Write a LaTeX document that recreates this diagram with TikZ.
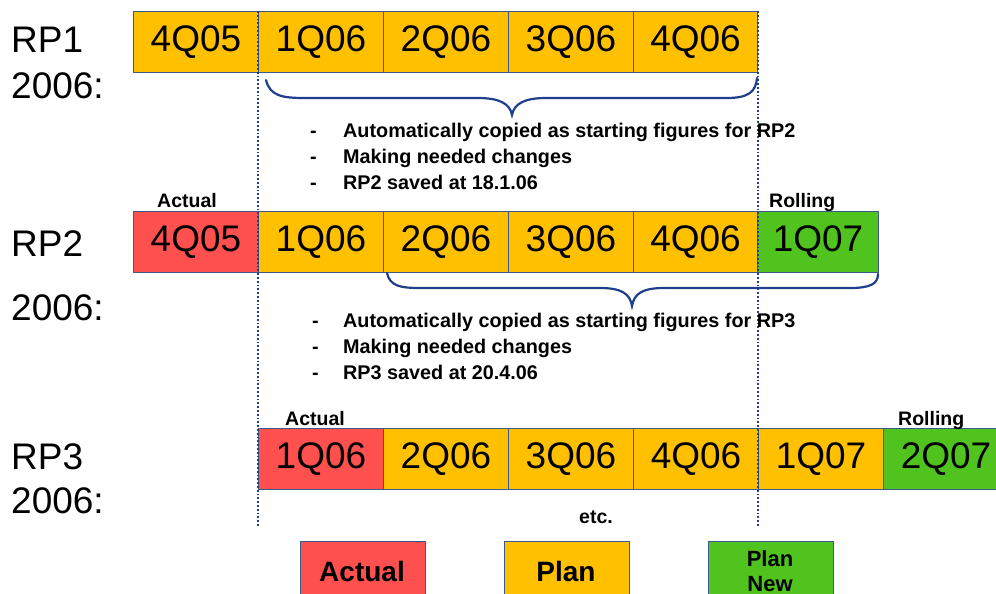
\documentclass[tikz,border=0pt]{standalone}
\usepackage{fontspec}
\setmainfont{Liberation Sans}
\usetikzlibrary{calc}
\definecolor{planorange}{HTML}{FFC000}
\definecolor{actualred}{HTML}{FF5050}
\definecolor{newgreen}{HTML}{50C31E}
\definecolor{edgeblue}{HTML}{3A5A8C}
\definecolor{bracenavy}{HTML}{1F3F8C}
\tikzset{
  qbox/.style={draw=edgeblue, line width=1pt, minimum width=125pt, minimum height=61pt,
    inner sep=0pt, anchor=north west, font=\fontsize{37}{40}\selectfont},
  plan/.style={qbox, fill=planorange},
  actual/.style={qbox, fill=actualred},
  rolling/.style={qbox, fill=newgreen},
  rowlabel/.style={anchor=base west, inner sep=0pt, font=\fontsize{37}{40}\selectfont},
  note/.style={anchor=base west, inner sep=0pt, font=\fontsize{19.8}{22}\selectfont\bfseries},
  tag/.style={anchor=base west, inner sep=0pt, font=\fontsize{19.5}{22}\selectfont\bfseries},
  guide/.style={draw=bracenavy, line width=2.2pt, dash pattern=on 1.8pt off 2pt},
  brace/.style={draw=bracenavy, line width=2.2pt, line cap=round},
  legendbox/.style={draw=edgeblue, line width=1pt, minimum width=125pt, minimum height=60pt,
    inner sep=0pt, anchor=north west},
  legendtext/.style={anchor=base, inner sep=0pt, font=\fontsize{28}{30}\selectfont\bfseries},
  legendsmall/.style={anchor=base, inner sep=0pt, font=\fontsize{22}{24}\selectfont\bfseries},
}
\begin{document}
\begin{tikzpicture}[x=1pt, y=-1pt]
\useasboundingbox (0,0) rectangle (996,594);
\clip (0,0) rectangle (996,594);

% row labels
\node[rowlabel] (l1) at (11,53) {RP1};
\node[rowlabel] (l1y) at (11,98) {2006:};
\node[rowlabel] (l2) at (11,256) {RP2};
\node[rowlabel] (l2y) at (11,320) {2006:};
\node[rowlabel] (l3) at (11,469) {RP3};
\node[rowlabel] (l3y) at (11,513) {2006:};

% RP1 quarters
\node[plan] (a1) at (133,11) {4Q05};
\node[plan] (a2) at (258,11) {1Q06};
\node[plan] (a3) at (383,11) {2Q06};
\node[plan] (a4) at (508,11) {3Q06};
\node[plan, minimum width=124pt] (a5) at (633,11) {4Q06};

% RP2 quarters
\node[actual] (b1) at (133,211) {4Q05};
\node[plan] (b2) at (258,211) {1Q06};
\node[plan] (b3) at (383,211) {2Q06};
\node[plan] (b4) at (508,211) {3Q06};
\node[plan, minimum width=124pt] (b5) at (633,211) {4Q06};
\node[rolling, minimum width=121pt] (b6) at (757,211) {1Q07};
\node[tag] (b1t) at (157,207) {Actual};
\node[tag] (b6t) at (769,207) {Rolling};

% RP3 quarters
\node[actual] (c1) at (258,428) {1Q06};
\node[plan] (c2) at (383,428) {2Q06};
\node[plan] (c3) at (508,428) {3Q06};
\node[plan] (c4) at (633,428) {4Q06};
\node[plan] (c5) at (758,428) {1Q07};
\node[rolling] (c6) at (883,428) {2Q07};
\node[tag] (c1t) at (285,425) {Actual};
\node[tag] (c6t) at (898,425) {Rolling};

% dotted guide lines through the year boundaries
\coordinate (g1) at (258,527);
\coordinate (g2) at (758,527);
\draw[guide] (a2.north west) -- (g1);
\draw[guide] (a5.north east) -- (g2);

% brace under RP1 quarters
\draw[brace] (266,80) .. controls (270,96) and (282,98) .. (305,98)
  -- (478,98) .. controls (500,98) and (510,104) .. (512,115)
  .. controls (514,104) and (524,98) .. (546,98)
  -- (727,98) .. controls (748,98) and (756,92) .. (757,78);
\node[note] (n1d) at (310,137) {-};
\node[note] (n1a) at (343,137) {Automatically copied as starting figures for RP2};
\node[note] (n2d) at (310,163) {-};
\node[note] (n2a) at (343,163) {Making needed changes};
\node[note] (n3d) at (310,189) {-};
\node[note] (n3a) at (343,189) {RP2 saved at 18.1.06};

% brace under RP2 quarters
\draw[brace] (387,273) .. controls (390,286) and (400,288) .. (420,288)
  -- (600,288) .. controls (622,288) and (630,294) .. (632,306)
  .. controls (634,294) and (642,288) .. (664,288)
  -- (850,288) .. controls (870,288) and (878,284) .. (878,274);
\node[note] (m1d) at (312,327) {-};
\node[note] (m1a) at (343,327) {Automatically copied as starting figures for RP3};
\node[note] (m2d) at (312,353) {-};
\node[note] (m2a) at (343,353) {Making needed changes};
\node[note] (m3d) at (312,379) {-};
\node[note] (m3a) at (343,379) {RP3 saved at 20.4.06};

\node[tag] (etc) at (579,523) {etc.};

% legend
\node[legendbox, fill=actualred] (k1) at (300,541) {};
\node[legendtext] (k1t) at (362,581) {Actual};
\node[legendbox, fill=planorange] (k2) at (504,541) {};
\node[legendtext] (k2t) at (566,581) {Plan};
\node[legendbox, fill=newgreen] (k3) at (708,541) {};
\node[legendsmall] (k3t) at (770,566) {Plan};
\node[legendsmall] (k3u) at (770,591) {New};
\end{tikzpicture}
\end{document}
